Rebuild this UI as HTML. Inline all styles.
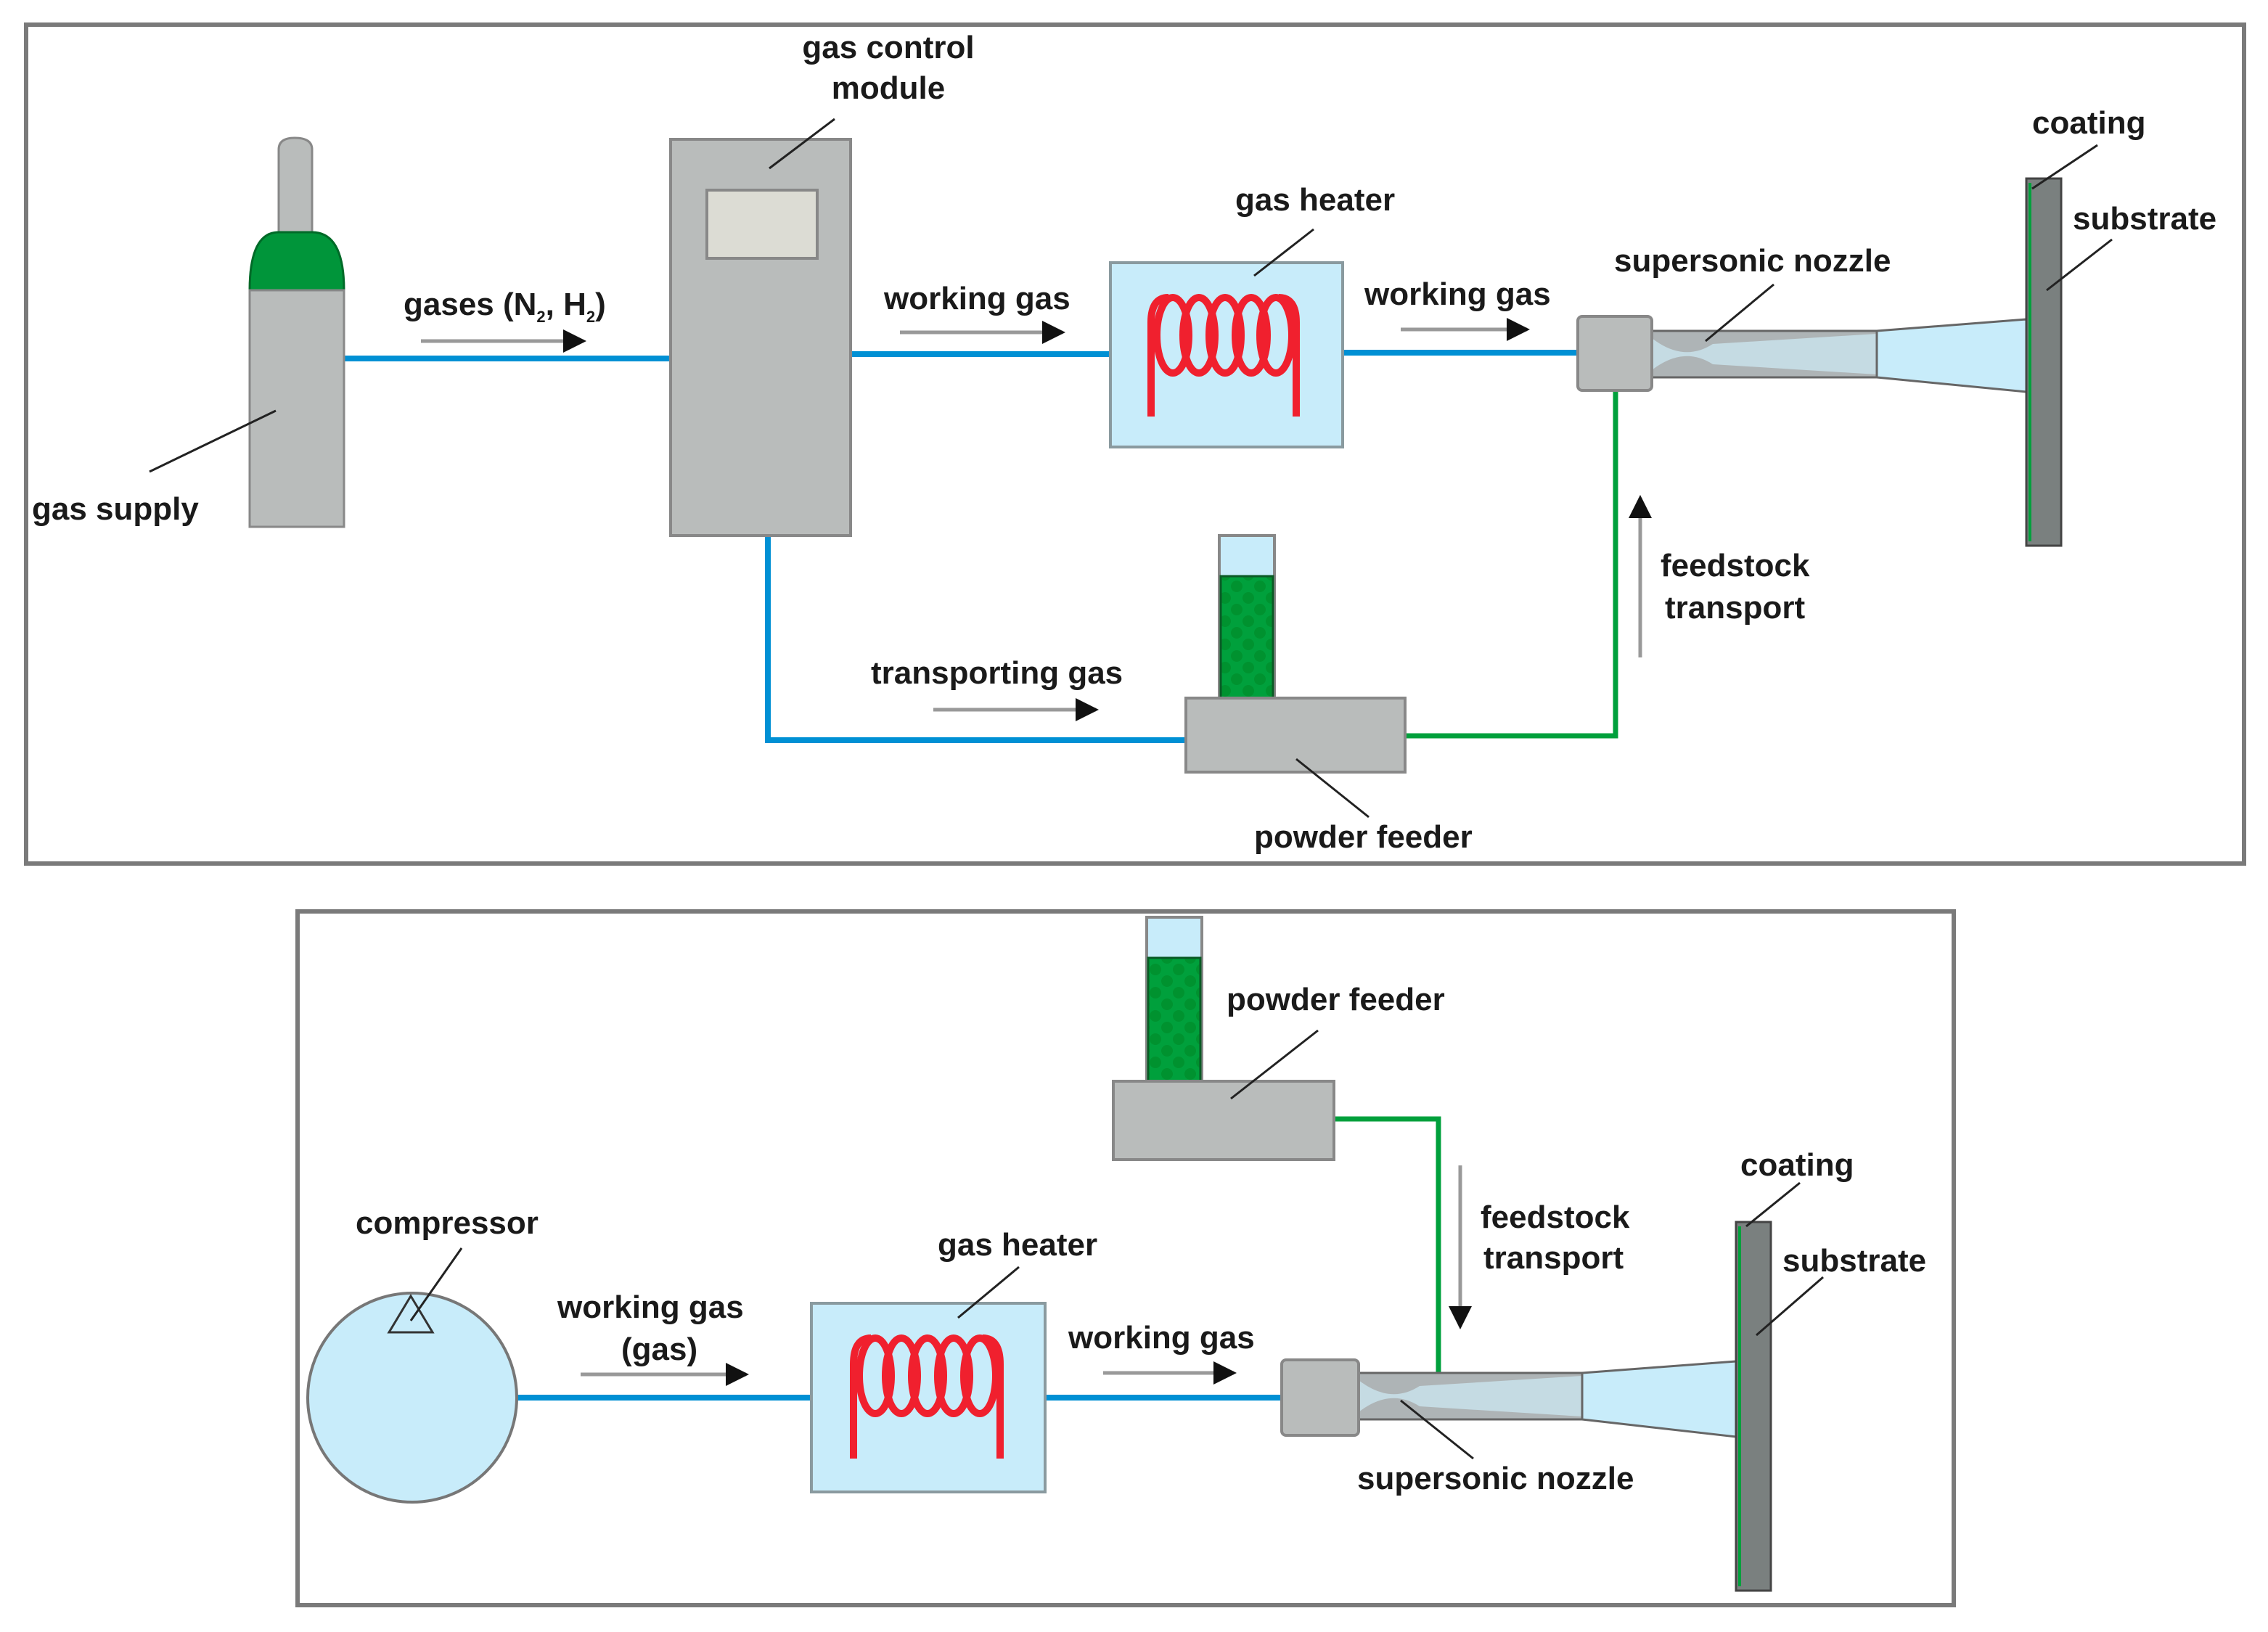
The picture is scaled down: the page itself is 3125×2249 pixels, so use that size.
<!DOCTYPE html>
<html><head><meta charset="utf-8"><style>
html,body{margin:0;padding:0;background:#fff;}
svg{display:block;}
text{font-family:"Liberation Sans",Arial,sans-serif;font-size:22px;font-weight:bold;fill:#1a1a1a;}
</style></head><body>
<svg width="3125" height="2249" viewBox="0 0 1562.5 1124.5" xmlns="http://www.w3.org/2000/svg">
<defs>
<marker id="ah" markerWidth="16" markerHeight="16" refX="14" refY="8" orient="auto" markerUnits="userSpaceOnUse" viewBox="0 0 16 16"><path d="M0,0 L16,8 L0,16 z" fill="#111"/></marker>
<pattern id="dots" width="16" height="16" patternUnits="userSpaceOnUse"><rect width="16" height="16" fill="#00a03c"/><circle cx="4" cy="4" r="4" fill="#00922f"/><circle cx="12" cy="12" r="4" fill="#00922f"/></pattern>
</defs>
<rect x="18" y="17" width="1528" height="578" fill="none" stroke="#7a7a7a" stroke-width="3"/>
<rect x="205" y="628" width="1141" height="478" fill="none" stroke="#7a7a7a" stroke-width="3"/>

<g stroke="#0090d4" stroke-width="4" fill="none">
<line x1="237" y1="247" x2="462" y2="247"/>
<line x1="586" y1="244" x2="765" y2="244"/>
<line x1="925" y1="243" x2="1087" y2="243"/>
<polyline points="529,369 529,510 817,510"/>
</g>
<polyline points="968,507 1113,507 1113,269" stroke="#00a03c" stroke-width="3.5" fill="none"/>
<path d="M192,160 V103 Q192,95 203,95 Q215,95 215,103 V160 Z" fill="#b9bcbb" stroke="#888" stroke-width="1.5"/>
<path d="M172,200 Q172,160 192,160 H215 Q237,160 237,200 Z" fill="#00953a" stroke="#006a28" stroke-width="1.5"/>
<rect x="172" y="200" width="65" height="163" fill="#b9bcbb" stroke="#888" stroke-width="1.5"/>
<rect x="462" y="96" width="124" height="273" fill="#b9bcbb" stroke="#888" stroke-width="2"/>
<rect x="487" y="131" width="76" height="47" fill="#dcdcd4" stroke="#888" stroke-width="2"/>
<rect x="765" y="181" width="160" height="127" fill="#c8ecfa" stroke="#8a9a9f" stroke-width="2"/>
<g stroke="#f0202e" stroke-width="5" fill="none">
<path d="M793,287 V222 Q793,205 805,205"/>
<path d="M893,287 V222 Q893,205 881,205"/>
<ellipse cx="808" cy="231" rx="11" ry="26"/><ellipse cx="826" cy="231" rx="11" ry="26"/><ellipse cx="844" cy="231" rx="11" ry="26"/><ellipse cx="862" cy="231" rx="11" ry="26"/><ellipse cx="879" cy="231" rx="11" ry="26"/>
</g>
<path d="M1138,228 H1293 V260 H1138 Z" fill="#aeb4b6" stroke="#666" stroke-width="1.5"/>
<path d="M1138,233 Q1160,250 1180,237 L1293,230 V258 L1180,251 Q1160,238 1138,255 Z" fill="#c5dbe3"/>
<path d="M1293,228 L1396,220 V270 L1293,260 Z" fill="#c8ecfa" stroke="#666" stroke-width="1.5"/>
<rect x="1087" y="218" width="51" height="51" rx="3" fill="#b9bcbb" stroke="#888" stroke-width="2"/>
<rect x="1396" y="123" width="24" height="253" fill="#7a807f" stroke="#444" stroke-width="1.5"/>
<line x1="1398.5" y1="126" x2="1398.5" y2="373" stroke="#00a03c" stroke-width="2"/>
<rect x="840" y="369" width="38" height="112" fill="#c8ecfa" stroke="#888" stroke-width="2"/>
<rect x="841" y="397" width="36" height="84" fill="url(#dots)" stroke="#0a5a25" stroke-width="1.5"/>
<rect x="817" y="481" width="151" height="51" fill="#b9bcbb" stroke="#888" stroke-width="2"/>
<g stroke="#999" stroke-width="2.5" marker-end="url(#ah)">
<line x1="290" y1="235" x2="402" y2="235"/>
<line x1="620" y1="229" x2="732" y2="229"/>
<line x1="965" y1="227" x2="1052" y2="227"/>
<line x1="643" y1="489" x2="755" y2="489"/>
<line x1="1130" y1="453" x2="1130" y2="343"/>
</g>
<g stroke="#222" stroke-width="1.5">
<line x1="103" y1="325" x2="190" y2="283"/>
<line x1="575" y1="82" x2="530" y2="116"/>
<line x1="905" y1="158" x2="864" y2="190"/>
<line x1="1222" y1="196" x2="1175" y2="235"/>
<line x1="1445" y1="100" x2="1400" y2="130"/>
<line x1="1455" y1="165" x2="1410" y2="200"/>
<line x1="943" y1="563" x2="893" y2="523"/>
</g>
<text x="22" y="358">gas supply</text>
<text x="612" y="40" text-anchor="middle">gas control</text>
<text x="612" y="68" text-anchor="middle">module</text>
<text x="278" y="217">gases (N<tspan font-size="11" dy="5">2</tspan><tspan dy="-5">, H</tspan><tspan font-size="11" dy="5">2</tspan><tspan dy="-5">)</tspan></text>
<text x="609" y="213">working gas</text>
<text x="851" y="145">gas heater</text>
<text x="940" y="210">working gas</text>
<text x="1112" y="187">supersonic nozzle</text>
<text x="1400" y="92">coating</text>
<text x="1428" y="158">substrate</text>
<text x="1144" y="397">feedstock</text>
<text x="1147" y="426">transport</text>
<text x="600" y="471">transporting gas</text>
<text x="864" y="584">powder feeder</text>

<g stroke="#0090d4" stroke-width="4">
<line x1="356" y1="963" x2="559" y2="963"/>
<line x1="720" y1="963" x2="883" y2="963"/>
</g>
<polyline points="919,771 991,771 991,946" stroke="#00a03c" stroke-width="3.5" fill="none"/>
<circle cx="284" cy="963" r="72" fill="#c8ecfa" stroke="#777" stroke-width="2"/>
<path d="M283,893 L268,918 L298,918 Z" fill="none" stroke="#333" stroke-width="1.5"/>
<rect x="559" y="898" width="161" height="130" fill="#c8ecfa" stroke="#8a9a9f" stroke-width="2"/>
<g stroke="#f0202e" stroke-width="5" fill="none">
<path d="M588,1005 V940 Q588,922 600,922"/>
<path d="M689,1005 V940 Q689,922 677,922"/>
<ellipse cx="603" cy="948" rx="11" ry="26"/><ellipse cx="621" cy="948" rx="11" ry="26"/><ellipse cx="639" cy="948" rx="11" ry="26"/><ellipse cx="657" cy="948" rx="11" ry="26"/><ellipse cx="675" cy="948" rx="11" ry="26"/>
</g>
<path d="M936,946 H1090 V978 H936 Z" fill="#aeb4b6" stroke="#666" stroke-width="1.5"/>
<path d="M936,951 Q958,968 978,955 L1090,948 V976 L978,969 Q958,956 936,973 Z" fill="#c5dbe3"/>
<path d="M1090,946 L1196,938 V990 L1090,978 Z" fill="#c8ecfa" stroke="#666" stroke-width="1.5"/>
<rect x="883" y="937" width="53" height="52" rx="3" fill="#b9bcbb" stroke="#888" stroke-width="2"/>
<rect x="1196" y="842" width="24" height="254" fill="#7a807f" stroke="#444" stroke-width="1.5"/>
<line x1="1198.5" y1="845" x2="1198.5" y2="1093" stroke="#00a03c" stroke-width="2"/>
<rect x="790" y="632" width="38" height="113" fill="#c8ecfa" stroke="#888" stroke-width="2"/>
<rect x="791" y="660" width="36" height="85" fill="url(#dots)" stroke="#0a5a25" stroke-width="1.5"/>
<rect x="767" y="745" width="152" height="54" fill="#b9bcbb" stroke="#888" stroke-width="2"/>
<g stroke="#999" stroke-width="2.5" marker-end="url(#ah)">
<line x1="400" y1="947" x2="514" y2="947"/>
<line x1="760" y1="946" x2="850" y2="946"/>
<line x1="1006" y1="803" x2="1006" y2="914"/>
</g>
<g stroke="#222" stroke-width="1.5">
<line x1="318" y1="860" x2="283" y2="910"/>
<line x1="702" y1="873" x2="660" y2="908"/>
<line x1="1015" y1="1005" x2="965" y2="965"/>
<line x1="1240" y1="815" x2="1203" y2="845"/>
<line x1="1256" y1="880" x2="1210" y2="920"/>
<line x1="908" y1="710" x2="848" y2="757"/>
</g>
<text x="245" y="850">compressor</text>
<text x="384" y="908">working gas</text>
<text x="428" y="937">(gas)</text>
<text x="646" y="865">gas heater</text>
<text x="736" y="929">working gas</text>
<text x="935" y="1026">supersonic nozzle</text>
<text x="1199" y="810">coating</text>
<text x="1228" y="876">substrate</text>
<text x="845" y="696">powder feeder</text>
<text x="1020" y="846">feedstock</text>
<text x="1022" y="874">transport</text>
</svg>
</body></html>
